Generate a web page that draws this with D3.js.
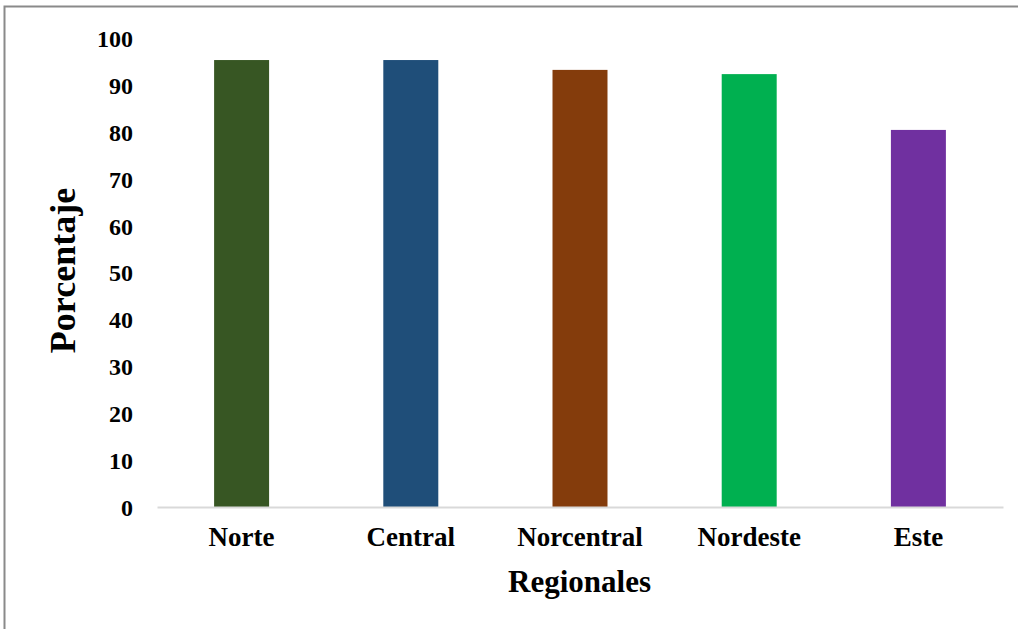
<!DOCTYPE html>
<html>
<head>
<meta charset="utf-8">
<script src="https://cdn.jsdelivr.net/npm/d3@7"></script>
<style>
  html, body { margin: 0; padding: 0; background: #fff; }
  svg { display: block; }
  text { font-family: "Times New Roman", "Liberation Serif", serif; font-weight: bold; fill: #000; }
</style>
</head>
<body>
<svg id="chart" width="1018" height="629"></svg>
<script>
// Percentage per region
const categories = ["Norte", "Central", "Norcentral", "Nordeste", "Este"];
const values = [95.3, 95.3, 93.2, 92.3, 80.4];
const colors = ["#375623", "#1F4E79", "#843C0C", "#00B050", "#7030A0"];
const yTicks = [0, 10, 20, 30, 40, 50, 60, 70, 80, 90, 100];
const yTitle = "Porcentaje";
const xTitle = "Regionales";

const svg = d3.select("#chart");
const W = 1018, H = 629;
const plot = { left: 157, right: 1003, top: 38, bottom: 507 };

// outer frame (top and left edges)
svg.append("path")
  .attr("d", `M4.5,${H} L4.5,6.5 L${W},6.5`)
  .attr("fill", "none")
  .attr("stroke", "#8a8a8a")
  .attr("stroke-width", 2);

const x = d3.scaleBand()
  .domain(categories)
  .range([plot.left, plot.right])
  .paddingInner(0.675)
  .paddingOuter(0.3375);

const y = d3.scaleLinear()
  .domain([0, 100])
  .range([plot.bottom, plot.top]);

// bars
svg.append("g")
  .selectAll("rect")
  .data(categories)
  .join("rect")
  .attr("x", d => x(d))
  .attr("y", (d, i) => y(values[i]))
  .attr("width", x.bandwidth())
  .attr("height", (d, i) => y(0) - y(values[i]))
  .attr("fill", (d, i) => colors[i]);

// y axis: labels only
const yAxis = svg.append("g")
  .attr("transform", `translate(${plot.left},0)`)
  .call(d3.axisLeft(y).tickValues(yTicks).tickSize(0).tickPadding(24));
yAxis.select(".domain").remove();
yAxis.selectAll("text")
  .style("font-size", "24px")
  .attr("dy", "0.35em");

// x axis
const xAxis = svg.append("g")
  .attr("transform", `translate(0,${plot.bottom})`)
  .call(d3.axisBottom(x).tickSize(0).tickPadding(20));
xAxis.select(".domain")
  .attr("stroke", "#d9d9d9")
  .attr("stroke-width", 2);
xAxis.selectAll("text")
  .style("font-size", "27px")
  .attr("dy", "0.71em");

// axis titles
svg.append("text")
  .attr("x", (plot.left + plot.right) / 2 - 0.5)
  .attr("y", 592)
  .attr("text-anchor", "middle")
  .style("font-size", "31px")
  .text(xTitle);

svg.append("text")
  .attr("transform", `translate(75,${(plot.top + plot.bottom) / 2 - 2}) rotate(-90)`)
  .attr("text-anchor", "middle")
  .style("font-size", "36px")
  .text(yTitle);
</script>
</body>
</html>
